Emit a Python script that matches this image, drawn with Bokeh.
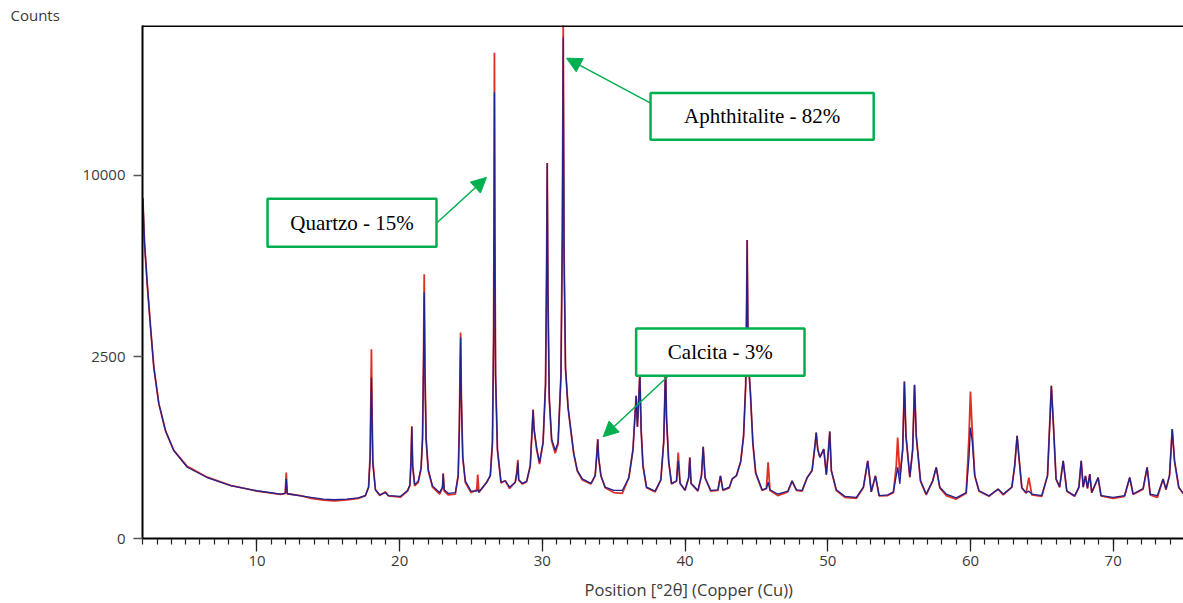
import numpy as np
from bokeh.plotting import figure
from bokeh.models import (Range1d, SingleIntervalTicker, FixedTicker, Title, Span,
                          CustomJSTickFormatter, BoxAnnotation, Label, Arrow, NormalHead,
                          ColumnDataSource)
from bokeh.embed import file_html
from bokeh.resources import INLINE

# ---------------- data (2theta in degrees, intensities in counts) ----------------
two_theta = [
    2.00, 2.12, 2.31, 2.54, 2.77, 3.12, 3.59, 4.17, 5.11, 6.51, 8.14, 10.0, 11.65,
    11.98, 12.05, 12.12, 13.05, 13.8, 14.66, 15.4, 16.3, 17.1, 17.6, 17.82, 17.93, 17.97, 18.02, 18.07, 18.12, 18.3, 18.6, 19.0, 19.2, 20.06,
    20.55, 20.72, 20.79, 20.85, 20.91, 21.05, 21.3, 21.5, 21.6, 21.67, 21.72, 21.77, 21.85, 22.0, 22.3, 22.8, 23.0, 23.05, 23.12, 23.4, 23.9, 24.1, 24.18, 24.23, 24.27, 24.32, 24.42, 24.6, 25.0, 25.4, 25.47, 25.55,
    26.1, 26.35, 26.5, 26.58, 26.62, 26.64, 26.67, 26.72, 26.85, 27.1, 27.4, 27.7, 28.1, 28.22, 28.28, 28.34, 28.6, 28.9, 29.15, 29.28, 29.35, 29.42, 29.6, 29.8,
    30.05, 30.22, 30.29, 30.34, 30.39, 30.48, 30.65, 30.9, 31.1, 31.3, 31.4, 31.46, 31.52, 31.62, 31.8, 32.0, 32.2, 32.45, 32.8, 33.4, 33.7, 33.82, 33.88, 33.94, 34.1, 34.4, 35.0, 35.6,
    36.06, 36.35, 36.5, 36.57, 36.66, 36.76, 36.83, 36.92, 37.05, 37.3, 37.9, 38.3, 38.5, 38.58, 38.63, 38.7, 38.85, 39.05, 39.4, 39.52, 39.65, 40.0, 40.25, 40.33, 40.42, 40.9, 41.15, 41.27, 41.4, 41.8, 42.3, 42.48, 42.65, 43.1, 43.3,
    43.6, 43.9, 44.1, 44.25, 44.31, 44.35, 44.4, 44.5, 44.58, 44.75, 44.95, 45.4, 45.7, 45.82, 45.95, 46.5, 47.2, 47.5, 47.8, 48.2, 48.56, 48.9, 49.1, 49.19, 49.3, 49.45, 49.72, 49.9, 50.05, 50.14, 50.25, 50.6,
    51.2, 52.0, 52.5, 52.8, 53.05, 53.34, 53.6, 54.2, 54.6, 54.8, 54.9, 55.05, 55.25, 55.37, 55.48, 55.75, 55.95, 56.08, 56.2, 56.5, 56.9, 57.35, 57.6, 57.85, 58.3, 59.0,
    59.7, 59.9, 60.0, 60.12, 60.3, 60.6, 61.3, 61.94, 62.3, 62.9, 63.1, 63.27, 63.4, 63.6, 63.9, 64.09, 64.3, 65.0, 65.4, 65.67, 65.8, 66.0, 66.25, 66.5, 66.75,
    67.3, 67.6, 67.76, 67.9, 68.06, 68.2, 68.36, 68.5, 68.95, 69.15, 70.0, 70.8, 71.16, 71.4, 72.1, 72.38, 72.6, 73.1, 73.5, 73.7, 73.95, 74.14, 74.3, 74.6, 74.93,
]

# calculated profile (blue)
counts_calc = [
    8800, 6600, 4900, 3380, 2220, 1380, 880, 585, 385, 282, 212, 173, 150,
    155, 270, 152, 138, 128, 118, 114, 118, 125, 140, 200, 500, 1150, 1970, 1000, 420, 180, 145, 160, 140, 135,
    175, 220, 450, 950, 400, 220, 250, 380, 750, 2300, 4600, 2100, 750, 360, 210, 160, 200, 320, 180, 155, 160, 300, 900, 2000, 3070, 1500, 500, 250, 170, 170, 180, 165,
    240, 300, 700, 3000, 9000, 15100, 7000, 2000, 600, 240, 253, 200, 240, 330, 440, 260, 230, 250, 400, 900, 1250, 900, 620, 440,
    700, 1800, 5000, 10700, 4500, 1500, 750, 590, 700, 2000, 7000, 19050, 6000, 2200, 1300, 880, 550, 350, 270, 230, 300, 550, 740, 500, 300, 200, 175, 175,
    280, 600, 1200, 1545, 950, 1500, 2080, 900, 400, 200, 170, 260, 700, 1500, 2300, 1100, 450, 230, 250, 458, 230, 180, 280, 498, 230, 175, 300, 638, 280, 175, 180, 298, 180, 200, 268,
    300, 450, 800, 1800, 4000, 6760, 3500, 2000, 1600, 700, 330, 180, 190, 240, 180, 150, 170, 253, 180, 175, 282, 350, 650, 853, 600, 500, 606, 310, 600, 869, 350, 180,
    135, 128, 200, 458, 165, 298, 140, 145, 165, 300, 383, 227, 600, 1870, 800, 290, 600, 1790, 800, 253, 150, 250, 383, 200, 150, 125,
    160, 500, 935, 724, 300, 173, 138, 185, 150, 200, 400, 801, 498, 195, 160, 170, 150, 140, 300, 1770, 1050, 268, 200, 458, 173,
    138, 200, 458, 200, 298, 190, 315, 160, 282, 140, 128, 140, 282, 150, 190, 383, 150, 140, 268, 185, 300, 908, 458, 200, 152,
]

# observed pattern (red)
counts_obs = [
    8800, 6600, 4900, 3380, 2220, 1380, 880, 590, 395, 285, 215, 170, 148,
    155, 330, 152, 140, 122, 112, 108, 114, 122, 140, 200, 520, 1250, 2720, 1100, 450, 180, 140, 165, 138, 130,
    170, 215, 450, 950, 400, 210, 240, 370, 760, 2400, 5300, 2200, 760, 350, 200, 150, 195, 320, 170, 145, 150, 300, 950, 2100, 3220, 1550, 500, 240, 160, 180, 310, 160,
    240, 300, 700, 3000, 9500, 17900, 7200, 2000, 600, 235, 253, 190, 240, 350, 470, 260, 225, 245, 400, 900, 1260, 900, 600, 420,
    700, 1800, 5100, 10700, 4600, 1500, 720, 550, 680, 2000, 7200, 20100, 6200, 2200, 1300, 880, 540, 345, 260, 225, 300, 560, 750, 500, 300, 195, 160, 155,
    280, 600, 1200, 1545, 950, 1500, 2080, 900, 400, 195, 165, 260, 700, 1500, 2300, 1100, 450, 225, 250, 561, 230, 175, 280, 498, 230, 170, 300, 638, 280, 170, 175, 298, 175, 195, 268,
    300, 450, 800, 1800, 4000, 6760, 3500, 2000, 1600, 690, 320, 175, 190, 440, 175, 140, 165, 250, 175, 170, 282, 350, 650, 853, 600, 500, 606, 310, 600, 869, 350, 175,
    128, 122, 200, 458, 165, 298, 138, 140, 160, 400, 774, 300, 600, 1870, 800, 282, 600, 1790, 800, 250, 145, 250, 383, 195, 140, 118,
    155, 800, 1640, 900, 300, 170, 135, 185, 145, 200, 400, 801, 498, 195, 155, 282, 145, 135, 300, 1770, 1050, 268, 200, 458, 170,
    135, 200, 458, 200, 298, 190, 315, 160, 282, 138, 122, 135, 282, 148, 185, 383, 145, 128, 268, 180, 300, 908, 458, 195, 150,
]

y_tick_counts = [0, 2500, 10000]
x_tick_interval = 10

# phase annotations: text, box (2theta left/right, counts bottom/top), arrow (start -> end)
phase_labels = ["Quartzo - 15%", "Aphthitalite - 82%", "Calcita - 3%"]
box_left = [10.74, 37.58, 36.57]
box_right = [22.58, 53.22, 48.37]
box_bottom = [6458, 12056, 2009]
box_top = [8757, 15055, 3347]
arrow_x0 = [22.63, 37.58, 38.77]
arrow_y0 = [7578, 14386, 1985]
arrow_x1 = [26.08, 31.69, 34.26]
arrow_y1 = [9890, 17503, 785]

# ---------------- plot (square-root intensity scale) ----------------
Y = np.sqrt
src = ColumnDataSource(dict(x=two_theta,
                            yc=Y(np.array(counts_calc, dtype=float)),
                            yo=Y(np.array(counts_obs, dtype=float))))

Y_TOP = 141.3
p = figure(width=1183, height=603, output_backend="svg", toolbar_location=None,
           x_range=Range1d(1.976, 74.93), y_range=Range1d(0, Y_TOP),
           min_border_left=142, min_border_right=0, min_border_top=25, min_border_bottom=65)
p.outline_line_color = None
p.grid.visible = False
p.background_fill_color = "white"
p.border_fill_color = "white"

p.line("x", "yo", source=src, line_color="#dc3028", line_width=1.8)
p.line("x", "yc", source=src, line_color="#22228f", line_width=1.3)

tick_font = "Open Sans"
text_grey = "#3a3a3a"
xa = p.xaxis[0]
xa.ticker = SingleIntervalTicker(interval=x_tick_interval, num_minor_ticks=10)
xa.axis_line_width = 2
xa.axis_line_color = "black"
xa.major_tick_in = 0
xa.major_tick_out = 13
xa.minor_tick_in = 0
xa.minor_tick_out = 6
xa.major_tick_line_color = "#222222"
xa.minor_tick_line_color = "#222222"
xa.major_tick_line_width = 1.3
xa.minor_tick_line_width = 1.2
xa.major_label_text_font = tick_font
xa.major_label_text_font_size = "15px"
xa.major_label_text_color = text_grey
xa.major_label_standoff = 4
# axis title: the original axis runs past the cropped right edge, so the title
# sits right of the visible frame's centre (leading no-break spaces shift it)
xa.axis_label = "\u00a0" * 12 + "Position [°2θ] (Copper (Cu))"
xa.axis_label_text_font = tick_font
xa.axis_label_text_font_size = "16.5px"
xa.axis_label_text_font_style = "normal"
xa.axis_label_text_color = text_grey
xa.axis_label_standoff = 9

ya = p.yaxis[0]
ya.ticker = FixedTicker(ticks=list(Y(np.array(y_tick_counts, dtype=float))))
ya.formatter = CustomJSTickFormatter(code="return String(Math.round(tick*tick));")
ya.axis_line_width = 2
ya.axis_line_color = "black"
ya.major_tick_in = 0
ya.major_tick_out = 9
ya.major_tick_line_color = "#555555"
ya.major_tick_line_width = 1.5
ya.minor_tick_line_color = None
ya.major_label_text_font = tick_font
ya.major_label_text_font_size = "15px"
ya.major_label_text_color = text_grey
ya.major_label_standoff = 8

# top border of the frame
p.add_layout(Span(location=Y_TOP - 0.15, dimension="width", line_color="black", line_width=2))

# y title, horizontal at the top-left corner
p.add_layout(Title(text="Counts", align="left", offset=-132, standoff=0,
                   text_font=tick_font, text_font_size="15px", text_font_style="normal",
                   text_color=text_grey, vertical_align="middle"), "above")

green = "#00b050"
for i, txt in enumerate(phase_labels):
    p.add_layout(Arrow(end=NormalHead(size=15, fill_color=green, line_color=green),
                       x_start=arrow_x0[i], y_start=float(Y(arrow_y0[i])),
                       x_end=arrow_x1[i], y_end=float(Y(arrow_y1[i])),
                       line_color=green, line_width=1.5))
    p.add_layout(BoxAnnotation(left=box_left[i], right=box_right[i],
                               bottom=float(Y(box_bottom[i])), top=float(Y(box_top[i])),
                               fill_color="white", fill_alpha=1.0,
                               line_color=green, line_width=2.5, line_alpha=1.0))
    p.add_layout(Label(x=(box_left[i] + box_right[i]) / 2,
                       y=float((Y(box_bottom[i]) + Y(box_top[i])) / 2),
                       text=txt, text_font="Liberation Serif", text_font_size="21px",
                       text_color="black", text_align="center", text_baseline="middle"))

open("out.html", "w").write(file_html(p, INLINE))
